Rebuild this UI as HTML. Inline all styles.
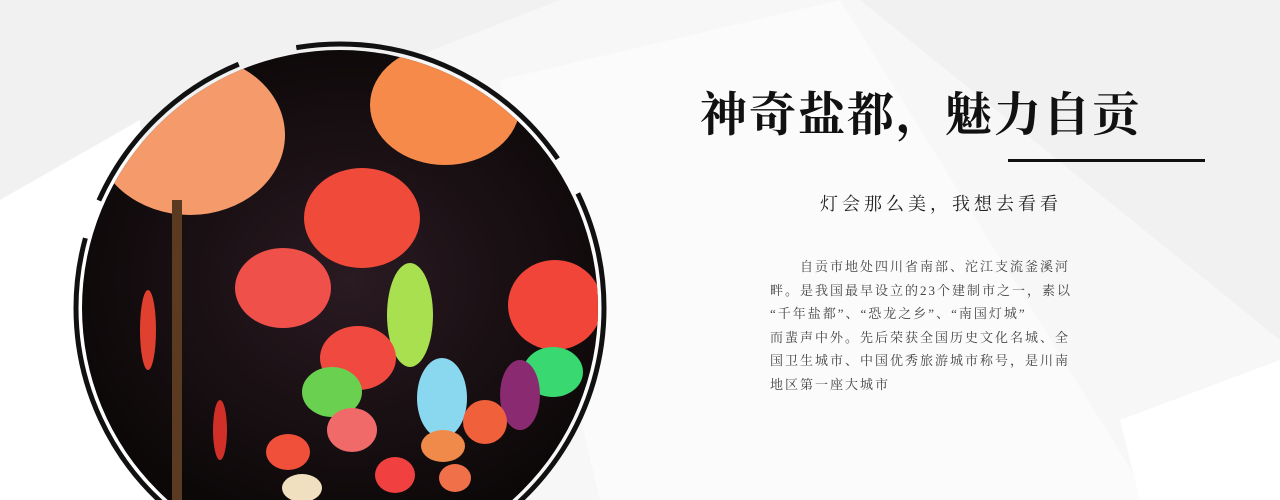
<!DOCTYPE html>
<html><head><meta charset="utf-8"><style>
body{margin:0;width:1280px;height:500px;overflow:hidden;background:#f1f1f1;position:relative;font-family:"Liberation Serif","Noto Serif CJK SC",serif;}
.abs{position:absolute}
</style></head><body>
<svg class="abs" style="left:0;top:0" width="1280" height="500">
<polygon points="0,220 560,0 860,0 1280,340 1280,500 640,500 0,500" fill="#f7f7f7"/>
<polygon points="500,80 840,0 1150,500 600,500" fill="#fbfbfb"/>
<polygon points="1120,420 1280,360 1280,500 1140,500" fill="#ffffff"/>
<polygon points="0,200 140,120 160,500 0,500" fill="#ffffff"/>
</svg>
<svg class="abs" style="left:0;top:0" width="1280" height="500">
<defs><clipPath id="c"><circle cx="340" cy="308" r="258"/></clipPath>
<radialGradient id="bg" cx="50%" cy="50%" r="50%"><stop offset="0" stop-color="#2a1a22"/><stop offset="1" stop-color="#0c0808"/></radialGradient></defs>
<circle cx="340" cy="308" r="264" fill="none" stroke="#111" stroke-width="5" stroke-dasharray="300 40 200 60"/>
<g clip-path="url(#c)">
<rect x="60" y="30" width="580" height="500" fill="url(#bg)"/>
<ellipse cx="190" cy="135" rx="95" ry="80" fill="#f59a6a"/>
<ellipse cx="445" cy="105" rx="75" ry="60" fill="#f58a4a"/>
<ellipse cx="362" cy="218" rx="58" ry="50" fill="#f04a3a"/>
<ellipse cx="283" cy="288" rx="48" ry="40" fill="#f0504a"/>
<ellipse cx="410" cy="315" rx="23" ry="52" fill="#a8e050"/>
<ellipse cx="555" cy="305" rx="47" ry="45" fill="#f2453a"/>
<ellipse cx="358" cy="358" rx="38" ry="32" fill="#f04a40"/>
<ellipse cx="553" cy="372" rx="30" ry="25" fill="#3ad870"/>
<ellipse cx="332" cy="392" rx="30" ry="25" fill="#6ad050"/>
<ellipse cx="442" cy="398" rx="25" ry="40" fill="#8ad8f0"/>
<ellipse cx="520" cy="395" rx="20" ry="35" fill="#8a2a70"/>
<ellipse cx="352" cy="430" rx="25" ry="22" fill="#f06a6a"/>
<ellipse cx="485" cy="422" rx="22" ry="22" fill="#f0603a"/>
<ellipse cx="288" cy="452" rx="22" ry="18" fill="#f0503a"/>
<ellipse cx="443" cy="446" rx="22" ry="16" fill="#f08a4a"/>
<ellipse cx="395" cy="475" rx="20" ry="18" fill="#f04040"/>
<ellipse cx="455" cy="478" rx="16" ry="14" fill="#f0704a"/>
<ellipse cx="302" cy="488" rx="20" ry="14" fill="#f0e0c0"/>
<ellipse cx="148" cy="330" rx="8" ry="40" fill="#e04030"/>
<ellipse cx="220" cy="430" rx="7" ry="30" fill="#d03028"/>
<rect x="172" y="200" width="10" height="300" fill="#5a3a20"/>
</g>
</svg>
<div class="abs" style="left:700px;top:78px;font-size:47px;font-weight:bold;letter-spacing:2px;color:#111;white-space:nowrap">神奇盐都，魅力自贡</div>
<div class="abs" style="left:1008px;top:159px;width:197px;height:3px;background:#111"></div>
<div class="abs" style="left:820px;top:190px;font-size:18px;letter-spacing:4px;color:#222;white-space:nowrap">灯会那么美，我想去看看</div>
<div class="abs" style="left:770px;top:255px;font-size:13px;line-height:23.6px;letter-spacing:2px;color:#444;white-space:nowrap">&emsp;&emsp;自贡市地处四川省南部、沱江支流釜溪河<br>畔。是我国最早设立的23个建制市之一，素以<br>“千年盐都”、“恐龙之乡”、“南国灯城”<br>而蜚声中外。先后荣获全国历史文化名城、全<br>国卫生城市、中国优秀旅游城市称号，是川南<br>地区第一座大城市</div>
</body></html>
